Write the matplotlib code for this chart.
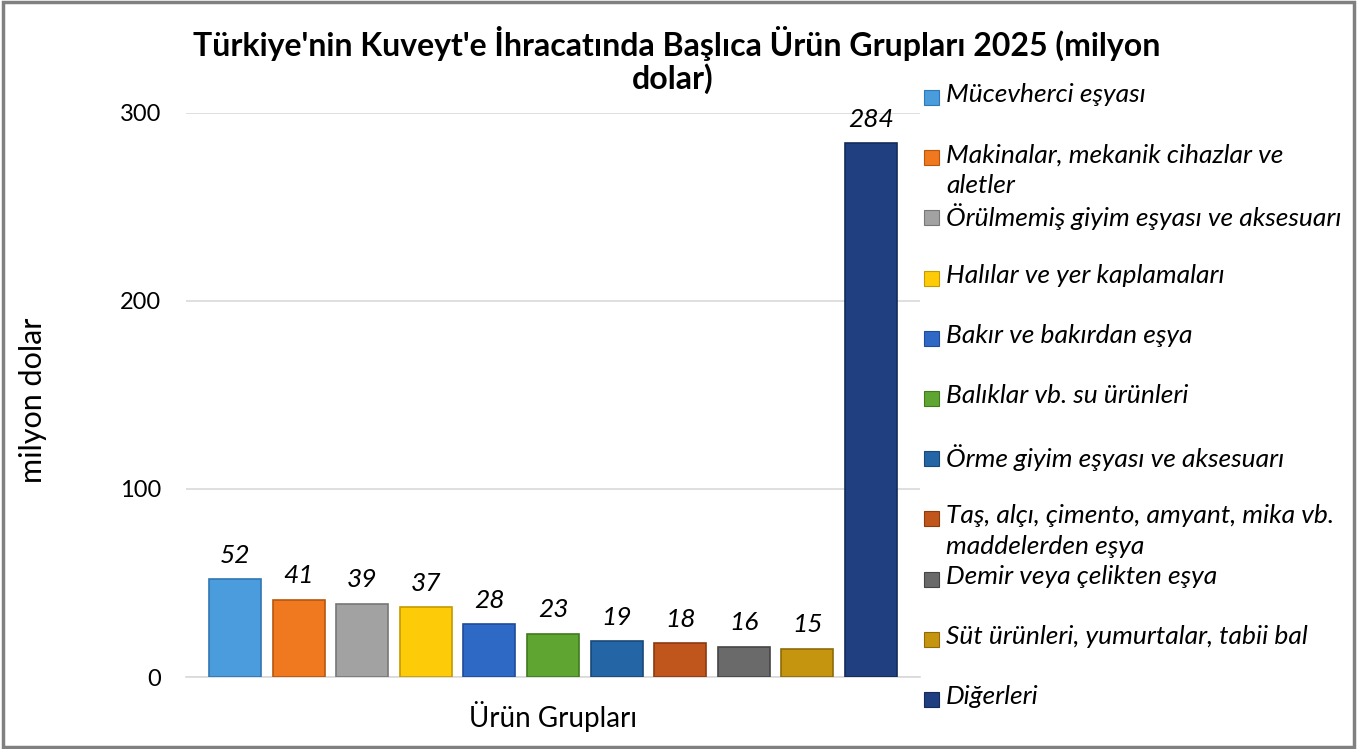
import numpy as np
import matplotlib.pyplot as plt
from matplotlib.patches import Rectangle

plt.rcParams['font.family'] = ['Lato', 'DejaVu Sans']

# urun gruplari ve degerleri (milyon dolar)
categories = [
    "Mücevherci eşyası",
    "Makinalar, mekanik cihazlar ve\naletler",
    "Örülmemiş giyim eşyası ve aksesuarı",
    "Halılar ve yer kaplamaları",
    "Bakır ve bakırdan eşya",
    "Balıklar vb. su ürünleri",
    "Örme giyim eşyası ve aksesuarı",
    "Taş, alçı, çimento, amyant, mika vb.\nmaddelerden eşya",
    "Demir veya çelikten eşya",
    "Süt ürünleri, yumurtalar, tabii bal",
    "Diğerleri",
]
values = [52, 41, 39, 37, 28, 23, 19, 18, 16, 15, 284]

colors = ["#4A9CDD", "#F0781E", "#A2A2A2", "#FDCB08", "#2F69C6", "#5EA532",
          "#2465A6", "#C0561B", "#6A6A6A", "#C6950F", "#1F3F80"]
edges = ["#2F77B5", "#B8560E", "#777777", "#C49A00", "#1F4C99", "#3F7A1D",
         "#184878", "#8C3A0E", "#454545", "#8E6A08", "#142B5A"]

title_lines = ["Türkiye'nin Kuveyt'e İhracatında Başlıca Ürün Grupları 2025 (milyon", "dolar)"]

W, H = 1358, 749
fig = plt.figure(figsize=(W / 100, H / 100), dpi=100)
ax = fig.add_axes([186 / W, 72 / H, 734 / W, 564 / H])

x = np.arange(len(values))
bars = ax.bar(x, values, width=0.82, color=colors, edgecolor=edges, linewidth=1.2, zorder=3)

for b, v in zip(bars, values):
    ax.annotate(str(v), (b.get_x() + b.get_width() / 2, v), xytext=(0, 9),
                textcoords="offset points", ha="center", va="bottom",
                fontsize=19, style="italic", annotation_clip=False)

ax.set_xlim(-0.77, len(values) - 0.23)
ax.set_ylim(0, 300)
ax.set_yticks([0, 100, 200, 300])
ax.set_xticks([])
ax.grid(axis="y", color="#D9D9D9", linewidth=1.2, zorder=0)
for s in ["top", "right", "left"]:
    ax.spines[s].set_visible(False)
ax.spines["bottom"].set_color("#D9D9D9")
ax.spines["bottom"].set_linewidth(1.2)
ax.tick_params(axis="y", length=0, pad=18, labelsize=17)

ax.set_xlabel("Ürün Grupları", fontsize=20, labelpad=17)
ax.set_ylabel("milyon dolar", fontsize=22)
ax.yaxis.set_label_coords(-0.19, 0.49)

# title, two lines like the original wrap
fig.text(0.4985, (H - 56) / H, title_lines[0], ha="center", va="baseline",
         fontsize=23, fontweight="bold")
fig.text(0.4955, (H - 89) / H, title_lines[1], ha="center", va="baseline",
         fontsize=23, fontweight="bold")

# legend drawn by hand, rows evenly spaced
row_y = 98
for lab, c, e in zip(categories, colors, edges):
    fig.add_artist(Rectangle((924 / W, (H - row_y - 7) / H), 15 / W, 15 / H,
                             facecolor=c, edgecolor=e, linewidth=0.8,
                             transform=fig.transFigure))
    fig.text(946 / W, (H - row_y + 15) / H, lab, fontsize=19, style="italic",
             va="top", ha="left", linespacing=1.4)
    row_y += 60.2

# outer frame
fig.add_artist(Rectangle((0.002, 0.003), 0.995, 0.994, fill=False, edgecolor="#808080",
                         linewidth=2.5, transform=fig.transFigure))

fig.savefig("out.png", dpi=100)
